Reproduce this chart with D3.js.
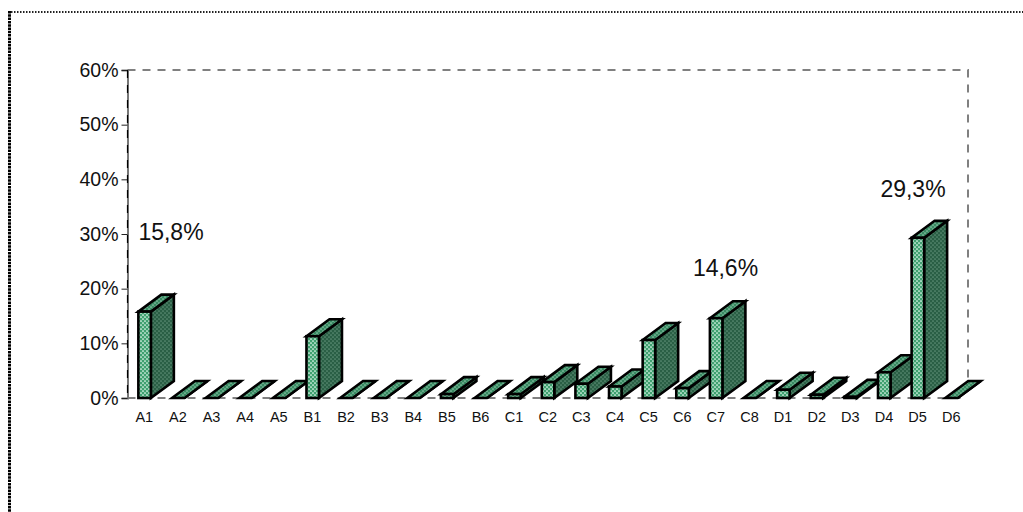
<!DOCTYPE html>
<html>
<head>
<meta charset="utf-8">
<title>Chart</title>
<script src="https://cdnjs.cloudflare.com/ajax/libs/d3/7.8.5/d3.min.js"></script>
<style>
html, body { margin: 0; padding: 0; background: #fff; overflow: hidden; }
text { font-family: "Liberation Sans", Arial, sans-serif; fill: #111; }
</style>
</head>
<body>
<script>
var categories = ["A1","A2","A3","A4","A5","B1","B2","B3","B4","B5","B6","C1","C2","C3","C4","C5","C6","C7","C8","D1","D2","D3","D4","D5","D6"];
var values = [15.8,0,0,0,0,11.3,0,0,0,0.7,0,0.7,2.9,2.6,2.1,10.6,1.8,14.6,0,1.5,0.6,0.2,4.7,29.3,0];
var yTicks = [0,10,20,30,40,50,60];
var labelled = ["A1","C7","D5"];

var width = 1023, height = 512;
var left = 127.5, right = 968, top_ = 70, bottom = 398;
var depthX = 23, depthY = 17, barW = 12.5;

var svg = d3.select("body").append("svg")
  .attr("width", width)
  .attr("height", height);

// dotted fills, one per bar face
var defs = svg.append("defs");
function dots(id, bg, dot, size) {
  var p = defs.append("pattern")
    .attr("id", id)
    .attr("width", size).attr("height", size)
    .attr("patternUnits", "userSpaceOnUse");
  p.append("rect").attr("width", size).attr("height", size).attr("fill", bg);
  p.append("circle").attr("cx", 1).attr("cy", 1).attr("r", 0.85).attr("fill", dot);
  p.append("circle").attr("cx", 3).attr("cy", 3).attr("r", 0.85).attr("fill", dot);
}
dots("front", "#3fa070", "#f0fff7", 4);
dots("topface", "#388a62", "#8fc4a9", 4);
dots("side", "#2a5f45", "#5f8f77", 4);

// outer dotted border
svg.append("line")
  .attr("x1", 8).attr("x2", 1023).attr("y1", 12).attr("y2", 12)
  .attr("stroke", "#222").attr("stroke-width", 2).attr("stroke-dasharray", "1.5,1.5");
svg.append("line")
  .attr("x1", 9.5).attr("x2", 9.5).attr("y1", 11).attr("y2", 512)
  .attr("stroke", "#000").attr("stroke-width", 3).attr("stroke-dasharray", "2.5,0.8");

var x = d3.scaleBand().domain(categories).range([left, right]);
var y = d3.scaleLinear().domain([0, 60]).range([bottom, top_]);

// dashed frame
svg.append("path")
  .attr("d", "M" + left + "," + top_ + "H" + right + "V" + (bottom - depthY))
  .attr("fill", "none").attr("stroke", "#808080").attr("stroke-width", 2)
  .attr("stroke-dasharray", "8,7");
svg.append("line")
  .attr("x1", left).attr("x2", right - 2).attr("y1", bottom).attr("y2", bottom)
  .attr("stroke", "#808080").attr("stroke-width", 2)
  .attr("stroke-dasharray", "8,7");

// y axis, black dashes over a grey line
var yAxis = svg.append("g")
  .attr("transform", "translate(" + left + ",0)")
  .call(d3.axisLeft(y).tickValues(yTicks).tickSize(6).tickPadding(3).tickFormat(function(d){ return d + "%"; }));
yAxis.select(".domain").attr("stroke", "#777").attr("stroke-width", 2);
yAxis.selectAll("line").attr("stroke", "#222").attr("stroke-width", 1);
yAxis.selectAll("text").attr("font-size", 19.5).attr("font-family", "Liberation Sans");
svg.append("line")
  .attr("x1", left).attr("x2", left).attr("y1", top_).attr("y2", bottom)
  .attr("stroke", "#000").attr("stroke-width", 1.2).attr("stroke-dasharray", "8,7");

// x axis labels only
var xAxis = svg.append("g")
  .attr("transform", "translate(0," + bottom + ")")
  .call(d3.axisBottom(x).tickSize(0).tickPadding(14));
xAxis.select(".domain").remove();
xAxis.selectAll("text").attr("font-size", 14.5).attr("font-family", "Liberation Sans");

// bars: side and top first, then the front, left to right
var bars = svg.selectAll("g.bar")
  .data(categories.map(function(c, i){ return {cat: c, val: values[i]}; }))
  .enter().append("g").attr("class", "bar");

function x0(d) { return x(d.cat) + x.bandwidth() / 2 - barW / 2 + 0.3; }

bars.append("path")
  .attr("d", function(d) {
    var a = x0(d) + barW, t = y(d.val);
    return "M" + a + "," + bottom + "L" + (a + depthX) + "," + (bottom - depthY) +
      "V" + (t - depthY) + "L" + a + "," + t + "Z";
  })
  .attr("fill", "url(#side)");
bars.append("path")
  .attr("d", function(d) {
    var a = x0(d), t = y(d.val);
    return "M" + a + "," + t + "L" + (a + depthX) + "," + (t - depthY) +
      "H" + (a + barW + depthX) + "L" + (a + barW) + "," + t + "Z";
  })
  .attr("fill", "url(#topface)");
bars.append("rect")
  .attr("x", x0)
  .attr("y", function(d){ return y(d.val); })
  .attr("width", barW)
  .attr("height", function(d){ return bottom - y(d.val); })
  .attr("fill", "url(#front)");
bars.selectAll("path, rect")
  .attr("stroke", "#000").attr("stroke-width", 2.6).attr("stroke-linejoin", "miter");

// value labels, hand placed as in the original
var labelPos = { A1: [171, 240], C7: [725.5, 276], D5: [913, 197] };
svg.selectAll("text.val")
  .data(labelled)
  .enter().append("text")
  .attr("class", "val")
  .attr("x", function(c){ return labelPos[c][0]; })
  .attr("y", function(c){ return labelPos[c][1]; })
  .attr("text-anchor", "middle")
  .attr("font-size", 23)
  .text(function(c){ return String(values[categories.indexOf(c)]).replace(".", ",") + "%"; });
</script>
</body>
</html>
